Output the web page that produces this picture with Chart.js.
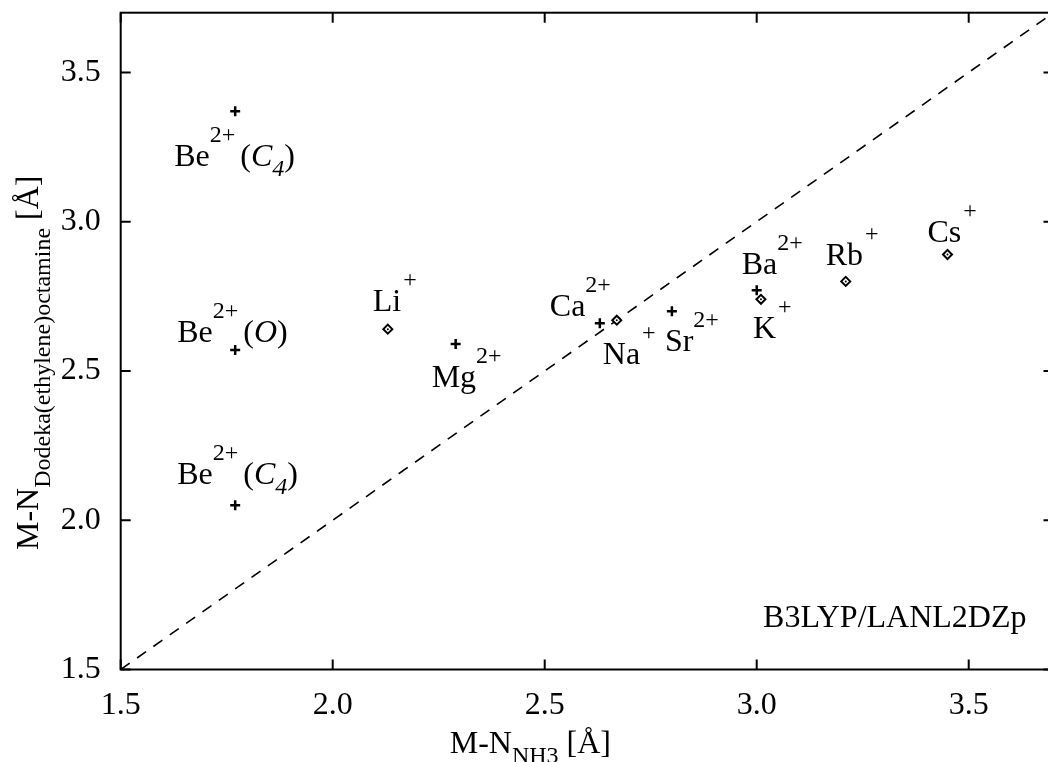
<!DOCTYPE html>
<html>
<head>
<meta charset="utf-8">
<script src="https://cdn.jsdelivr.net/npm/chart.js@4"></script>
<style>
  html, body { margin: 0; padding: 0; background: #fff; overflow: hidden; }
  #clip { width: 1048px; height: 762px; overflow: hidden; position: relative; }
  #chart { display: block; position: absolute; left: 0; top: 0; }
</style>
</head>
<body>
<div id="clip"><canvas id="chart" width="1056" height="762"></canvas></div>
<script>
// divalent cations (plus markers)
var divX = [1.77, 1.77, 1.77, 2.29, 2.63, 2.80, 3.00];
var divY = [3.37, 2.57, 2.05, 2.59, 2.66, 2.70, 2.77];
var divNames = ['Be', 'Be', 'Be', 'Mg', 'Ca', 'Sr', 'Ba'];
var divSites = ['C', 'O', 'C', '', '', '', ''];
var divSiteSub = ['4', '', '4', '', '', '', ''];

// monovalent cations (diamond markers)
var monoX = [2.13, 2.67, 3.01, 3.21, 3.45];
var monoY = [2.64, 2.67, 2.74, 2.80, 2.89];
var monoNames = ['Li', 'Na', 'K', 'Rb', 'Cs'];

var tickValues = [1.5, 2.0, 2.5, 3.0, 3.5];
var diagonal = [1.5, 3.7];

// label placement relative to the point (pixels)
var divDx = [-61, -58, -58, -24, -50, -7, -15];
var divDy = [55, -8, -21, 43, -7, 40, -16];
var monoDx = [-15, -14, -8, -20, -20];
var monoDy = [-18, 44, 39, -16, -13];

var FONT = '"Liberation Serif", "Times New Roman", serif';
var BIG = 32, SMALL = 24;

function toPoints(xs, ys) {
  return xs.map(function (x, i) { return { x: x, y: ys[i] }; });
}

// draw text with super/subscripts, returns end x
function drawRich(ctx, x, y, parts) {
  parts.forEach(function (p) {
    var size = p.s ? SMALL : BIG;
    ctx.font = (p.i ? 'italic ' : '') + size + 'px ' + FONT;
    var yy = y + (p.s === 'sup' ? -24 : p.s === 'sub' ? (p.drop || 10) : 0);
    ctx.fillText(p.t, x, yy);
    x += ctx.measureText(p.t).width + (p.gap || 0);
  });
  return x;
}

var frame = {
  id: 'frame',
  beforeDatasetsDraw: function (chart) {
    var a = chart.chartArea, ctx = chart.ctx;
    var sx = chart.scales.x, sy = chart.scales.y;
    ctx.save();
    ctx.strokeStyle = '#000';
    ctx.lineWidth = 2;
    ctx.strokeRect(a.left, a.top, a.right - a.left, a.bottom - a.top);
    ctx.beginPath();
    sx.ticks.forEach(function (t) {
      var px = sx.getPixelForValue(t.value);
      ctx.moveTo(px, a.bottom); ctx.lineTo(px, a.bottom - 10);
      ctx.moveTo(px, a.top); ctx.lineTo(px, a.top + 10);
    });
    sy.ticks.forEach(function (t) {
      var py = sy.getPixelForValue(t.value);
      ctx.moveTo(a.left, py); ctx.lineTo(a.left + 10, py);
      ctx.moveTo(a.right, py); ctx.lineTo(a.right - 10, py);
    });
    ctx.stroke();
    ctx.restore();
  }
};

var labels = {
  id: 'labels',
  afterDraw: function (chart) {
    var a = chart.chartArea, ctx = chart.ctx;
    var sx = chart.scales.x, sy = chart.scales.y;
    ctx.save();
    ctx.fillStyle = '#000';
    ctx.textAlign = 'left';
    ctx.textBaseline = 'alphabetic';

    divX.forEach(function (x, i) {
      var px = sx.getPixelForValue(x) + divDx[i];
      var py = sy.getPixelForValue(divY[i]) + divDy[i];
      var parts = [{ t: divNames[i] }, { t: '2+', s: 'sup', gap: divSites[i] ? 5 : 0 }];
      if (divSites[i]) {
        parts.push({ t: '(' }, { t: divSites[i], i: true });
        if (divSiteSub[i]) parts.push({ t: divSiteSub[i], i: true, s: 'sub' });
        parts.push({ t: ')' });
      }
      drawRich(ctx, px, py, parts);
    });

    monoX.forEach(function (x, i) {
      var px = sx.getPixelForValue(x) + monoDx[i];
      var py = sy.getPixelForValue(monoY[i]) + monoDy[i];
      drawRich(ctx, px, py, [{ t: monoNames[i], gap: 2 }, { t: '+', s: 'sup' }]);
    });

    // method label
    ctx.font = BIG + 'px ' + FONT;
    ctx.fillText('B3LYP/LANL2DZp', sx.getPixelForValue(3.015), sy.getPixelForValue(1.642));

    // x axis title
    drawRich(ctx, a.left + 329, a.bottom + 83.5,
      [{ t: 'M-N' }, { t: 'NH3', s: 'sub', gap: 8 }, { t: '[Å]' }]);

    // y axis title
    ctx.translate(38, a.bottom - 119.5);
    ctx.rotate(-Math.PI / 2);
    drawRich(ctx, 0, 0,
      [{ t: 'M-N' }, { t: 'Dodeka(ethylene)octamine', s: 'sub', drop: 12, gap: 8 }, { t: '[Å]' }]);
    ctx.restore();
  }
};

function axis(pad, fit) {
  return {
    type: 'linear',
    min: diagonal[0],
    max: diagonal[1],
    grid: { display: false, drawTicks: false },
    border: { display: false },
    ticks: {
      color: '#000',
      padding: pad,
      font: { family: FONT, size: BIG },
      callback: function (v) { return v.toFixed(1); }
    },
    afterBuildTicks: function (s) {
      s.ticks = tickValues.map(function (v) { return { value: v }; });
    },
    afterFit: function (s) {
      s.paddingTop = 0; s.paddingBottom = 0;
      s.paddingLeft = 0; s.paddingRight = 0;
      fit(s);
    }
  };
}

new Chart(document.getElementById('chart'), {
  type: 'scatter',
  data: {
    datasets: [
      {
        label: 'monovalent centre',
        data: toPoints(monoX, monoY),
        pointStyle: 'circle',
        pointRadius: 1,
        backgroundColor: '#000',
        borderColor: '#000',
        borderWidth: 0
      },
      {
        label: 'monovalent',
        data: toPoints(monoX, monoY),
        pointStyle: 'rectRot',
        pointRadius: 4.5,
        backgroundColor: '#fff',
        borderColor: '#000',
        borderWidth: 2
      },
      {
        label: 'divalent',
        data: toPoints(divX, divY),
        pointStyle: 'cross',
        pointRadius: 5,
        borderColor: '#000',
        borderWidth: 2.5
      },
      {
        label: 'y = x',
        type: 'line',
        data: toPoints(diagonal, diagonal),
        borderColor: '#000',
        borderWidth: 1.6,
        borderDash: [11, 9],
        pointRadius: 0,
        fill: false
      }
    ]
  },
  options: {
    responsive: false,
    animation: false,
    devicePixelRatio: 1,
    layout: { autoPadding: false, padding: { top: 12.7, right: 2.5, left: 0, bottom: 0 } },
    plugins: { legend: { display: false }, tooltip: { enabled: false } },
    scales: {
      x: axis(17, function (s) { s.height = 92.5; }),
      y: axis(20, function (s) { s.width = 120.7; })
    }
  },
  plugins: [frame, labels]
});
</script>
</body>
</html>
